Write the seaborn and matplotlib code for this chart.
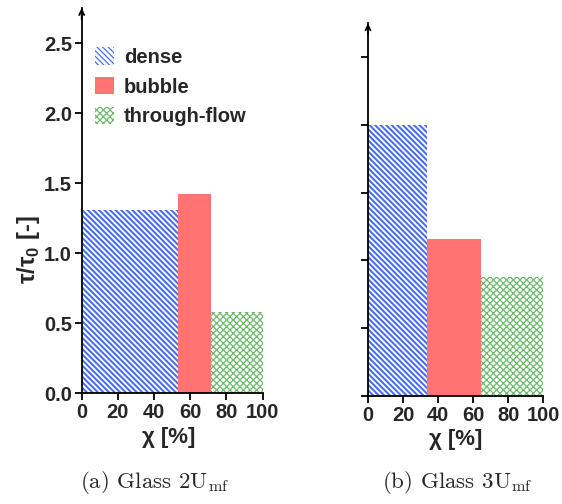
import numpy as np
import pandas as pd
import matplotlib
matplotlib.use("Agg")
import matplotlib.pyplot as plt
from matplotlib.patches import Patch
import seaborn as sns

# Flow regimes and their share of the bed (chi, %) with normalised residence time
regimes = ["dense", "bubble", "through-flow"]
chi_2u = [53.4, 17.9, 28.7]
tau_2u = [1.31, 1.42, 0.58]
chi_3u = [33.5, 30.8, 35.7]
tau_3u = [2.0, 1.16, 0.88]
captions = [r"(a) Glass 2U$_{\mathrm{mf}}$", r"(b) Glass 3U$_{\mathrm{mf}}$"]
x_ticks = [0, 20, 40, 60, 80, 100]
y_ticks = [0.0, 0.5, 1.0, 1.5, 2.0, 2.5]

styles = {
    "dense": dict(face="white", edge="#4a6ff0", hatch="\\" * 6, hlw=1.5),
    "bubble": dict(face="#ff7373", edge="#ff7373", hatch=None, hlw=1.0),
    "through-flow": dict(face="white", edge="#6cbc6c", hatch="x" * 5, hlw=0.9),
}

sns.set_style("ticks")
plt.rcParams["font.family"] = ["Liberation Sans", "DejaVu Sans"]
plt.rcParams["font.weight"] = "bold"
plt.rcParams["mathtext.fontset"] = "custom"
plt.rcParams["mathtext.rm"] = "Liberation Sans:bold"
plt.rcParams["mathtext.bf"] = "Liberation Sans:bold"

fig = plt.figure(figsize=(5.62, 5.04), dpi=100)
ax_a = fig.add_axes([0.1454, 0.2196, 0.322, 0.7645])
ax_b = fig.add_axes([0.6548, 0.2143, 0.312, 0.7395])


def draw_panel(ax, chi, tau, show_ylabels):
    edges = np.concatenate([[0.0], np.cumsum(chi)])
    df = pd.DataFrame({
        "regime": regimes,
        "lo": edges[:-1],
        "hi": edges[1:],
        "tau": tau,
    })
    df["mid"] = (df["lo"] + df["hi"]) / 2
    for _, row in df.iterrows():
        st = styles[row["regime"]]
        plt.rcParams["hatch.linewidth"] = st["hlw"]
        n0 = len(ax.patches)
        sns.histplot(x=[row["mid"]], weights=[row["tau"]],
                     bins=[row["lo"], row["hi"]], ax=ax,
                     color=st["face"], alpha=1, linewidth=0)
        for p in ax.patches[n0:]:
            p.set_facecolor(st["face"])
            p.set_edgecolor(st["edge"])
            p.set_linewidth(0)
            if st["hatch"]:
                p.set_hatch(st["hatch"])
    ax.set_xlim(0, 100)
    ax.set_ylim(0, 2.75)
    ax.set_xticks(x_ticks)
    ax.set_yticks(y_ticks)
    ax.set_xticklabels([str(t) for t in x_ticks], fontsize=14.5, fontweight="bold")
    if show_ylabels:
        ax.set_yticklabels([f"{t:.1f}" for t in y_ticks], fontsize=14.5, fontweight="bold")
    else:
        ax.set_yticklabels([])
    ax.set_ylabel("")
    ax.set_xlabel("")
    for side in ("top", "right"):
        ax.spines[side].set_visible(False)
    for side in ("left", "bottom"):
        ax.spines[side].set_linewidth(1.3)
        ax.spines[side].set_color("black")
    ax.tick_params(axis="both", direction="out", length=5, width=1.3,
                   color="black", pad=2)
    ax.annotate("", xy=(0, 1.0), xytext=(0, 0.97), xycoords="axes fraction",
                arrowprops=dict(arrowstyle="->", lw=1.3, color="black",
                                shrinkA=0, shrinkB=0, mutation_scale=9),
                annotation_clip=False)
    ax.set_facecolor("white")


draw_panel(ax_a, chi_2u, tau_2u, True)
draw_panel(ax_b, chi_3u, tau_3u, False)

# axis titles
fig.text(28 / 562, 1 - 250 / 504, r"τ/τ$_{0}$ [-]", rotation=90, ha="center",
         va="center", fontsize=17, fontweight="bold")
for x, y in [(169, 437), (456, 440)]:
    fig.text(x / 562, 1 - y / 504, "χ [%]", ha="center", va="center",
             fontsize=16, fontweight="bold")

handles = []
for r in regimes:
    plt.rcParams["hatch.linewidth"] = styles[r]["hlw"]
    handles.append(Patch(facecolor=styles[r]["face"], edgecolor=styles[r]["edge"],
                         hatch=styles[r]["hatch"], linewidth=0, label=r))
ax_a.legend(handles=handles, loc="upper left", bbox_to_anchor=(0.073, 0.898),
            frameon=False, handlelength=0.95, handleheight=0.95,
            labelspacing=0.5, handletextpad=0.5, borderpad=0, borderaxespad=0,
            prop=dict(weight="bold", size=14.5))

for x, cap in zip([155 / 562, 457 / 562], captions):
    fig.text(x, 1 - 483 / 504, cap, ha="center", va="center", fontsize=16.5,
             fontfamily="cmr10", fontweight="normal", math_fontfamily="cm")

fig.savefig("out.png", dpi=100, facecolor="white")
